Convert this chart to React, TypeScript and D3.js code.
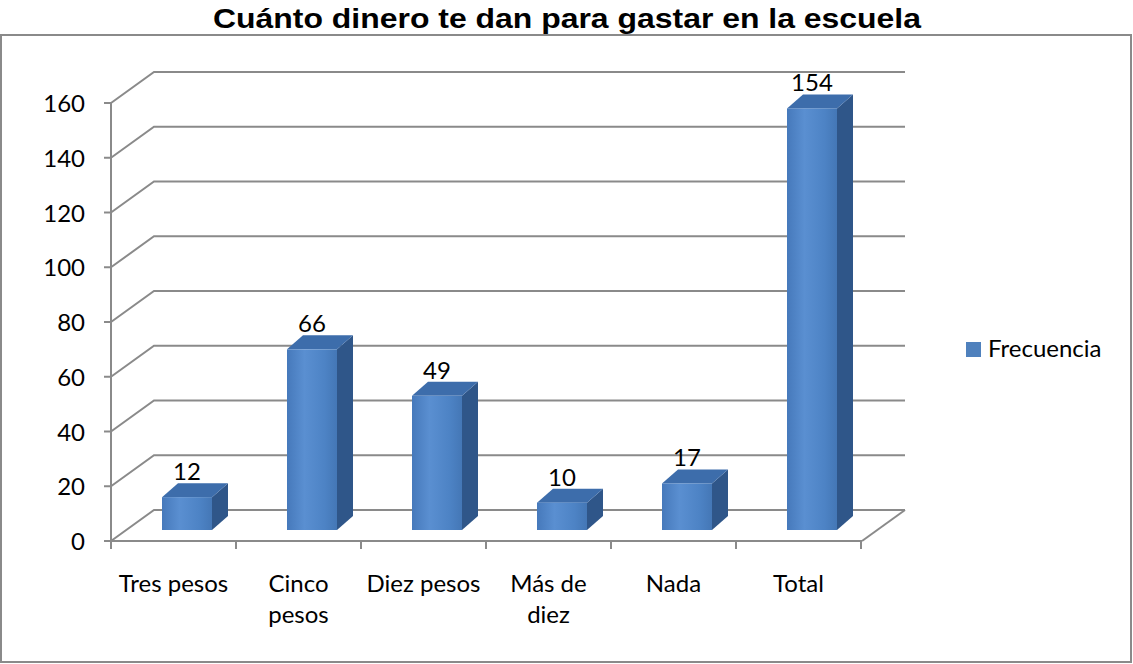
import * as d3 from 'd3';

const categories = ['Tres pesos', 'Cinco pesos', 'Diez pesos', 'Más de diez', 'Nada', 'Total'];
const categoryLines = [['Tres pesos'], ['Cinco', 'pesos'], ['Diez pesos'], ['Más de', 'diez'], ['Nada'], ['Total']];
const values = [12, 66, 49, 10, 17, 154];
const seriesName = 'Frecuencia';
const title = 'Cuánto dinero te dan para gastar en la escuela';

const W = 1133;
const H = 664;
const FONT = 'Lato, "Open Sans", sans-serif';
const FS = 24;

export default function App() {
  // front plane of the plot
  const left = 111;
  const right = 861;
  const bottom = 541;
  const top = 103;
  // depth of the back wall
  const depthX = 43;
  const depthY = -31;
  // bar offset inside the depth, and bar depth
  const barShiftX = 13.5;
  const barShiftY = -11;
  const barDX = 16;
  const barDY = -14;

  const y = d3.scaleLinear().domain([0, 160]).range([bottom, top]);
  const x = d3
    .scaleBand()
    .domain(categories)
    .range([left, right])
    .paddingInner(0.6)
    .paddingOuter(0.3);
  const ticks = y.ticks(8);
  const step = x.step();
  const bw = x.bandwidth();
  const grid = '#8a8a8a';

  return (
    <svg
      width={W}
      height={H}
      style={{ position: 'absolute', left: 0, top: 0, background: '#fff' }}
    >
      <defs>
        <linearGradient id="front" x1="0" x2="1" y1="0" y2="0">
          <stop offset="0" stopColor="#4679bb" />
          <stop offset="0.35" stopColor="#5a8fd1" />
          <stop offset="0.75" stopColor="#4d83c5" />
          <stop offset="1" stopColor="#4477b6" />
        </linearGradient>
      </defs>
      <rect x={1} y={35} width={1130} height={627} fill="#fff" stroke="#8a8a8a" strokeWidth={2} />
      <text
        x={567}
        y={28}
        textAnchor="middle"
        fontFamily='"Liberation Sans", Arial, sans-serif'
        fontWeight="bold"
        fontSize={27}
        textLength={708}
        lengthAdjust="spacingAndGlyphs"
        fill="#000"
      >
        {title}
      </text>

      {/* back wall gridlines with side-wall diagonals */}
      {ticks.map((t) => (
        <g key={t}>
          <polyline
            points={`${left},${y(t)} ${left + depthX},${y(t) + depthY} ${right + 1 + depthX},${y(t) + depthY}`}
            fill="none"
            stroke={grid}
            strokeWidth={2}
          />
          <line x1={left - 7} x2={left} y1={y(t)} y2={y(t)} stroke={grid} strokeWidth={2} />
          <text
            x={85}
            y={y(t) + 9}
            textAnchor="end"
            fontFamily={FONT}
            fontSize={FS}
            fill="#000"
          >
            {t}
          </text>
        </g>
      ))}

      {/* floor and front axis */}
      <line x1={left} x2={left} y1={top} y2={bottom} stroke={grid} strokeWidth={2} />
      <line x1={left} x2={right + 1} y1={bottom} y2={bottom} stroke={grid} strokeWidth={2} />
      <line
        x1={right + 1}
        x2={right + 1 + depthX}
        y1={bottom}
        y2={bottom + depthY}
        stroke={grid}
        strokeWidth={2}
      />
      {d3.range(categories.length + 1).map((i) => (
        <line
          key={i}
          x1={left + i * step}
          x2={left + i * step}
          y1={bottom}
          y2={bottom + 8}
          stroke={grid}
          strokeWidth={2}
        />
      ))}

      {/* bars */}
      {categories.map((c, i) => {
        const x0 = (x(c) || 0) + barShiftX;
        const x1 = x0 + bw;
        const yb = bottom + barShiftY;
        const yt = y(values[i]) + barShiftY;
        return (
          <g key={c}>
            <polygon
              points={`${x1},${yt} ${x1 + barDX},${yt + barDY} ${x1 + barDX},${yb + barDY} ${x1},${yb}`}
              fill="#2f5689"
            />
            <polygon
              points={`${x0},${yt} ${x1},${yt} ${x1 + barDX},${yt + barDY} ${x0 + barDX},${yt + barDY}`}
              fill="#3d6dab"
            />
            <rect x={x0} y={yt} width={bw} height={yb - yt} fill="url(#front)" />
            <text
              x={x0 + bw / 2}
              y={yt - 17}
              textAnchor="middle"
              fontFamily={FONT}
              fontSize={FS}
              fill="#000"
            >
              {values[i]}
            </text>
          </g>
        );
      })}

      {/* category labels */}
      {categories.map((c, i) => (
        <text
          key={c}
          x={(x(c) || 0) + bw / 2}
          y={592}
          textAnchor="middle"
          fontFamily={FONT}
          fontSize={FS}
          fill="#000"
        >
          {categoryLines[i].map((line, j) => (
            <tspan key={j} x={(x(c) || 0) + bw / 2} dy={j === 0 ? 0 : 31}>
              {line}
            </tspan>
          ))}
        </text>
      ))}

      {/* legend */}
      <rect x={966} y={342} width={15} height={15} fill="#4f81bd" />
      <text x={988} y={357} fontFamily={FONT} fontSize={FS} fill="#000">
        {seriesName}
      </text>
    </svg>
  );
}
